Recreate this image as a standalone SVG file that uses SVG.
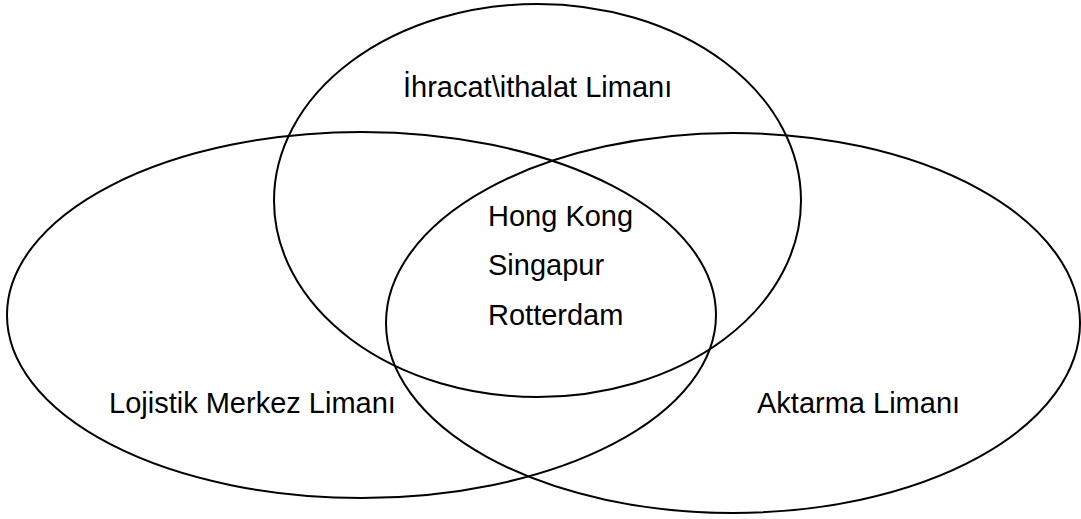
<svg xmlns="http://www.w3.org/2000/svg" width="1081" height="519" viewBox="0 0 1081 519">
<style>
.set{fill:none;stroke:#000;stroke-width:2}
.lbl{font-family:"Liberation Sans",Arial,sans-serif;font-size:29px;fill:#000}
</style>
<rect width="1081" height="519" fill="#fff"/>
<g id="connectors"></g>
<g id="node-ihracat">
<ellipse class="set" cx="537.5" cy="200.5" rx="263.5" ry="196.5"/>
<text class="lbl" x="403" y="97">İhracat\ithalat Limanı</text>
</g>
<g id="node-lojistik">
<ellipse class="set" cx="361.5" cy="315" rx="354.5" ry="183"/>
<text class="lbl" x="109" y="413">Lojistik Merkez Limanı</text>
</g>
<g id="node-aktarma">
<ellipse class="set" cx="733" cy="323" rx="347" ry="190"/>
<text class="lbl" x="757" y="413">Aktarma Limanı</text>
</g>
<g id="node-center">
<text class="lbl" x="488" y="226">Hong Kong</text>
<text class="lbl" x="488" y="275">Singapur</text>
<text class="lbl" x="488" y="325">Rotterdam</text>
</g>
</svg>
